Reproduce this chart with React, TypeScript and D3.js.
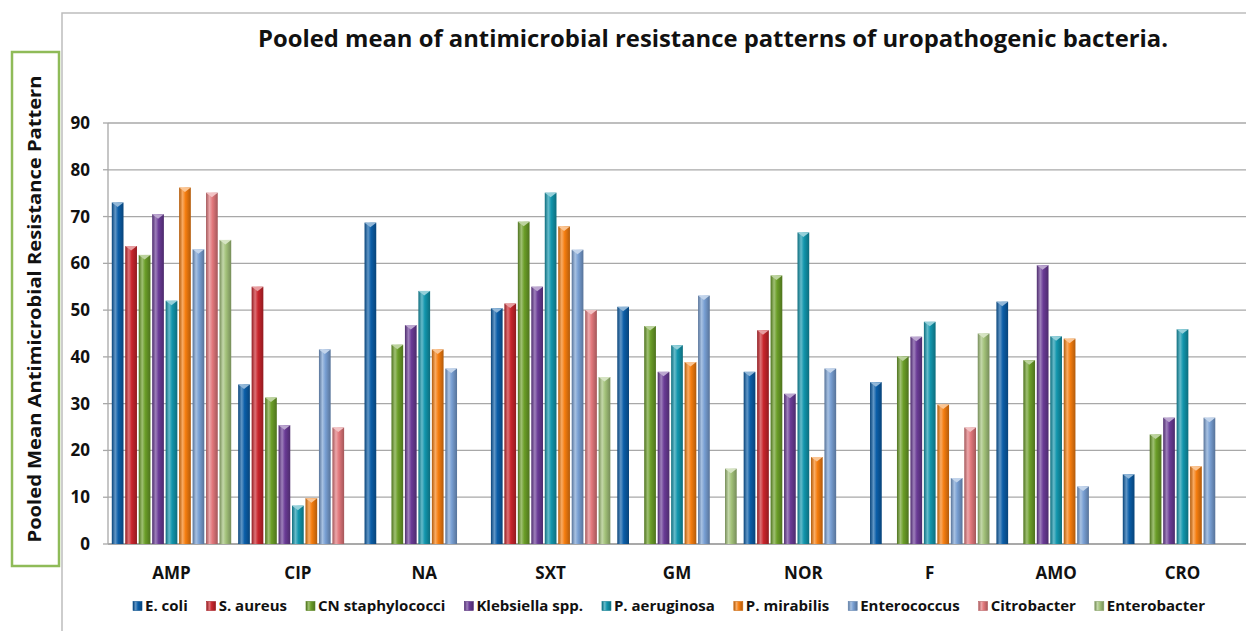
import React, { useLayoutEffect, useRef, useState } from 'react';
import * as d3 from 'd3';

const categories = ['AMP', 'CIP', 'NA', 'SXT', 'GM', 'NOR', 'F', 'AMO', 'CRO'];
const seriesNames = ['E. coli', 'S. aureus', 'CN staphylococci', 'Klebsiella spp.', 'P. aeruginosa', 'P. mirabilis', 'Enterococcus', 'Citrobacter', 'Enterobacter'];

const eColi = [73, 34.1, 68.7, 50.4, 50.7, 36.8, 34.6, 51.8, 14.9];
const sAureus = [63.7, 55, null, 51.4, null, 45.7, null, null, null];
const cnStaph = [61.8, 31.3, 42.6, 68.9, 46.6, 57.4, 40.1, 39.3, 23.4];
const klebsiella = [70.5, 25.4, 46.8, 55, 36.8, 32.1, 44.3, 59.6, 27];
const pAeruginosa = [52, 8.2, 54.1, 75.1, 42.5, 66.6, 47.5, 44.4, 45.9];
const pMirabilis = [76.2, 9.8, 41.6, 67.9, 38.9, 18.6, 29.8, 43.9, 16.6];
const enterococcus = [63, 41.6, 37.5, 62.9, 53.1, 37.5, 14.1, 12.3, 27];
const citrobacter = [75.1, 24.9, null, 50, null, null, 24.9, null, null];
const enterobacter = [65, null, null, 35.7, 16.1, null, 45, null, null];

const seriesValues: (number | null)[][] = [eColi, sAureus, cnStaph, klebsiella, pAeruginosa, pMirabilis, enterococcus, citrobacter, enterobacter];
const yTicks = [0, 10, 20, 30, 40, 50, 60, 70, 80, 90];

const baseColors = ['#0b5ea8', '#c9252c', '#6b9e28', '#6a3b96', '#1296ad', '#f57d0f', '#789fd3', '#e2787c', '#a3c27a'];

const W = 1246;
const H = 631;
const plotLeft = 108;
const plotRight = 1246;
const plotTop = 123;
const plotBottom = 544;
const FONT = '"Open Sans", "Liberation Sans", sans-serif';

export default function App() {
  const x0 = d3.scaleBand<string>().domain(categories).range([plotLeft, plotRight]).paddingInner(0.055).paddingOuter(0.03);
  const x1 = d3.scaleBand<string>().domain(seriesNames).range([0, x0.bandwidth()]).paddingInner(0.13);
  const y = d3.scaleLinear().domain([0, 90]).range([plotBottom, plotTop]);

  const legendRef = useRef<SVGGElement>(null);
  const [legendW, setLegendW] = useState<number[] | null>(null);
  useLayoutEffect(() => {
    if (!legendRef.current) return;
    const ws: number[] = [];
    d3.select(legendRef.current).selectAll<SVGTextElement, unknown>('text.lt').each(function () {
      ws.push(this.getComputedTextLength());
    });
    setLegendW(ws);
  }, []);

  const sq = 9;
  const sqGap = 3;
  const legendSpan = 1072;
  const legendStart = 133;
  let legendX: number[] = seriesNames.map((_, i) => legendStart + i * 120);
  if (legendW) {
    const itemW = legendW.map((w) => sq + sqGap + w);
    const total = d3.sum(itemW);
    const gap = (legendSpan - total) / (seriesNames.length - 1);
    let cx = legendStart;
    legendX = itemW.map((w) => {
      const p = cx;
      cx += w + gap;
      return p;
    });
  }

  return (
    <svg width={W} height={H} style={{ position: 'absolute', left: 0, top: 0, background: '#fff' }}>
      <defs>
        {baseColors.map((c, i) => {
          const base = d3.color(c)!;
          const light = d3.interpolateRgb(c, '#ffffff')(0.35);
          const dark = base.darker(0.9).toString();
          return (
            <linearGradient id={`g${i}`} key={i} x1="0" x2="1" y1="0" y2="0">
              <stop offset="0%" stopColor={dark} />
              <stop offset="30%" stopColor={light} />
              <stop offset="55%" stopColor={c} />
              <stop offset="100%" stopColor={dark} />
            </linearGradient>
          );
        })}
      </defs>
      <rect x={0} y={0} width={W} height={H} fill="#fff" />
      {/* outer frame */}
      <path d={`M62,${H} V13 H${W}`} fill="none" stroke="#bdbdbd" strokeWidth={1.5} />

      {/* title */}
      <text x={258} y={47} fontFamily={FONT} fontWeight="bold" fontSize={24} fill="#111" textLength={910} lengthAdjust="spacingAndGlyphs">
        Pooled mean of antimicrobial resistance patterns of uropathogenic bacteria.
      </text>

      {/* y label box */}
      <rect x={12} y={52} width={47} height={514} fill="#fff" stroke="#8fbb58" strokeWidth={2.5} />
      <text transform={`translate(41,${(52 + 566) / 2}) rotate(-90)`} textAnchor="middle" fontFamily={FONT} fontWeight="bold" fontSize={18} fill="#111" textLength={467} lengthAdjust="spacingAndGlyphs">
        Pooled Mean Antimicrobial Resistance Pattern
      </text>

      {/* gridlines */}
      {yTicks.map((t) => (
        <g key={t}>
          <line x1={plotLeft} x2={plotRight} y1={y(t)} y2={y(t)} stroke={t === 0 ? '#8c8c8c' : '#a8a8a8'} strokeWidth={1.3} />
          <line x1={plotLeft - 5} x2={plotLeft} y1={y(t)} y2={y(t)} stroke="#a8a8a8" strokeWidth={1.3} />
          <text x={90} y={y(t)} dy="0.35em" textAnchor="end" fontFamily={FONT} fontWeight="bold" fontSize={17} fill="#111">
            {t}
          </text>
        </g>
      ))}
      <line x1={plotLeft} x2={plotLeft} y1={plotTop} y2={plotBottom} stroke="#a8a8a8" strokeWidth={1.3} />

      {/* bars */}
      {categories.map((cat, ci) => (
        <g key={cat} transform={`translate(${x0(cat)},0)`}>
          {seriesNames.map((s, si) => {
            const v = seriesValues[si][ci];
            if (v === null || v === undefined) return null;
            const bx = x1(s)!;
            const bw = x1.bandwidth();
            const top = y(v);
            const capLight = d3.interpolateRgb(baseColors[si], '#ffffff')(0.55);
            return (
              <g key={s}>
                <rect x={bx} y={top} width={bw} height={plotBottom - top} fill={`url(#g${si})`} />
                <path d={`M${bx},${top} L${bx + bw},${top} L${bx + bw / 2},${top + 4.5} Z`} fill={capLight} />
              </g>
            );
          })}
        </g>
      ))}

      {/* x labels */}
      {categories.map((cat) => (
        <text key={cat} x={x0(cat)! + x0.bandwidth() / 2} y={573} dy="0.35em" textAnchor="middle" fontFamily={FONT} fontWeight="bold" fontSize={17} fill="#111">
          {cat}
        </text>
      ))}

      {/* legend */}
      <g ref={legendRef}>
        {seriesNames.map((s, i) => (
          <g key={s} transform={`translate(${legendX[i]},606)`}>
            <rect x={0} y={-sq / 2} width={sq} height={sq} fill={`url(#g${i})`} stroke={d3.color(baseColors[i])!.darker(0.5).toString()} strokeWidth={0.6} />
            <text className="lt" x={sq + sqGap} y={0} dy="0.35em" fontFamily={FONT} fontWeight="bold" fontSize={15} fill="#111">
              {s}
            </text>
          </g>
        ))}
      </g>
    </svg>
  );
}
